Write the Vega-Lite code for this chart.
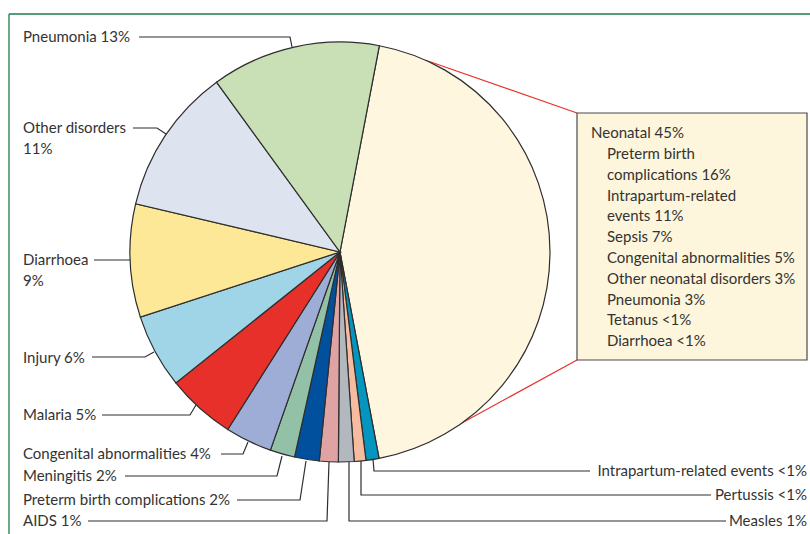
{
  "$schema": "https://vega.github.io/schema/vega-lite/v6.json",
  "width": 810,
  "height": 534,
  "padding": 0,
  "autosize": {"type": "none"},
  "background": "white",
  "config": {"view": {"stroke": null}, "text": {"font": "Lato", "fontSize": 15, "color": "#333333"}},
  "datasets": {
    "slices": [
      {"cause": "Neonatal", "value": 44.0, "ord": 1},
      {"cause": "Intrapartum-related events", "value": 1.0, "ord": 2},
      {"cause": "Pertussis", "value": 0.9, "ord": 3},
      {"cause": "Measles", "value": 1.2, "ord": 4},
      {"cause": "AIDS", "value": 1.45, "ord": 5},
      {"cause": "Preterm birth complications", "value": 1.9, "ord": 6},
      {"cause": "Meningitis", "value": 1.9, "ord": 7},
      {"cause": "Congenital abnormalities", "value": 3.6, "ord": 8},
      {"cause": "Malaria", "value": 5.3, "ord": 9},
      {"cause": "Injury", "value": 5.7, "ord": 10},
      {"cause": "Diarrhoea", "value": 8.7, "ord": 11},
      {"cause": "Other disorders", "value": 11.3, "ord": 12},
      {"cause": "Pneumonia", "value": 13.0, "ord": 13}
    ],
    "leftLabels": [
      {"label": "Pneumonia 13%", "x": -317, "y": -215},
      {"label": "Other disorders", "x": -317, "y": -124},
      {"label": "11%", "x": -317, "y": -103},
      {"label": "Diarrhoea", "x": -317, "y": 8},
      {"label": "9%", "x": -317, "y": 29},
      {"label": "Injury 6%", "x": -317, "y": 106},
      {"label": "Malaria 5%", "x": -317, "y": 163},
      {"label": "Congenital abnormalities 4%", "x": -317, "y": 202},
      {"label": "Meningitis 2%", "x": -317, "y": 224},
      {"label": "Preterm birth complications 2%", "x": -317, "y": 248},
      {"label": "AIDS 1%", "x": -317, "y": 269}
    ],
    "rightLabels": [
      {"label": "Intrapartum-related events <1%", "x": 467, "y": 219},
      {"label": "Pertussis <1%", "x": 467, "y": 243},
      {"label": "Measles 1%", "x": 467, "y": 269}
    ],
    "boxText": [
      {"label": "Neonatal 45%", "x": 251, "y": -119},
      {"label": "Preterm birth", "x": 267, "y": -98},
      {"label": "complications 16%", "x": 267, "y": -77},
      {"label": "Intrapartum-related", "x": 267, "y": -56},
      {"label": "events 11%", "x": 267, "y": -36},
      {"label": "Sepsis 7%", "x": 267, "y": -15},
      {"label": "Congenital abnormalities 5%", "x": 267, "y": 6},
      {"label": "Other neonatal disorders 3%", "x": 267, "y": 27},
      {"label": "Pneumonia 3%", "x": 267, "y": 48},
      {"label": "Tetanus <1%", "x": 267, "y": 68},
      {"label": "Diarrhoea <1%", "x": 267, "y": 89}
    ],
    "leaders": [
      {"id": "pneumonia", "k": 1, "x": -201, "y": -215},
      {"id": "pneumonia", "k": 2, "x": -50, "y": -215},
      {"id": "pneumonia", "k": 3, "x": -48, "y": -205},
      {"id": "other", "k": 1, "x": -207, "y": -124},
      {"id": "other", "k": 2, "x": -183, "y": -124},
      {"id": "other", "k": 3, "x": -174, "y": -118},
      {"id": "diarrhoea", "k": 1, "x": -246, "y": 8},
      {"id": "diarrhoea", "k": 2, "x": -210, "y": 8},
      {"id": "injury", "k": 1, "x": -248, "y": 105},
      {"id": "injury", "k": 2, "x": -195, "y": 105},
      {"id": "injury", "k": 3, "x": -186, "y": 100},
      {"id": "malaria", "k": 1, "x": -238, "y": 163},
      {"id": "malaria", "k": 2, "x": -150, "y": 163},
      {"id": "malaria", "k": 3, "x": -144, "y": 153},
      {"id": "congenital", "k": 1, "x": -119, "y": 202},
      {"id": "congenital", "k": 2, "x": -97, "y": 202},
      {"id": "congenital", "k": 3, "x": -92, "y": 190},
      {"id": "meningitis", "k": 1, "x": -215, "y": 224},
      {"id": "meningitis", "k": 2, "x": -63, "y": 224},
      {"id": "meningitis", "k": 3, "x": -58, "y": 204},
      {"id": "preterm", "k": 1, "x": -103, "y": 248},
      {"id": "preterm", "k": 2, "x": -40, "y": 248},
      {"id": "preterm", "k": 3, "x": -34, "y": 209},
      {"id": "aids", "k": 1, "x": -252, "y": 269},
      {"id": "aids", "k": 2, "x": -13, "y": 269},
      {"id": "aids", "k": 3, "x": -11, "y": 210},
      {"id": "measles", "k": 1, "x": 9, "y": 210},
      {"id": "measles", "k": 2, "x": 9, "y": 269},
      {"id": "measles", "k": 3, "x": 386, "y": 269},
      {"id": "pertussis", "k": 1, "x": 21, "y": 209},
      {"id": "pertussis", "k": 2, "x": 21, "y": 243},
      {"id": "pertussis", "k": 3, "x": 371, "y": 243},
      {"id": "intrapartum", "k": 1, "x": 33, "y": 207},
      {"id": "intrapartum", "k": 2, "x": 34, "y": 219},
      {"id": "intrapartum", "k": 3, "x": 250, "y": 219}
    ],
    "callout": [
      {"x": 85, "y": -192, "x2": 237, "y2": -139},
      {"x": 120, "y": 172, "x2": 237, "y2": 108}
    ],
    "box": [{"x": 237, "y": -139, "x2": 467, "y2": 108}],
    "frame": [
      {"x": -331, "y": -238, "x2": 480, "y2": -238},
      {"x": -331, "y": -238, "x2": -331, "y2": 290}
    ]
  },
  "layer": [
    {
      "data": {"name": "frame"},
      "mark": {"type": "rule", "color": "#1f7a4d", "strokeWidth": 1.3},
      "encoding": {
        "x": {"field": "x", "type": "quantitative", "scale": {"domain": [-340, 470], "nice": false, "zero": false}, "axis": null},
        "y": {"field": "y", "type": "quantitative", "scale": {"domain": [-252, 282], "nice": false, "zero": false, "reverse": true}, "axis": null},
        "x2": {"field": "x2"},
        "y2": {"field": "y2"}
      }
    },
    {
      "data": {"name": "callout"},
      "mark": {"type": "rule", "color": "#e8312a", "strokeWidth": 1.2},
      "encoding": {
        "x": {"field": "x", "type": "quantitative"},
        "y": {"field": "y", "type": "quantitative"},
        "x2": {"field": "x2"},
        "y2": {"field": "y2"}
      }
    },
    {
      "data": {"name": "slices"},
      "mark": {"type": "arc", "outerRadius": 210, "stroke": "#2e2e2e", "strokeWidth": 1.2},
      "encoding": {
        "x": {"datum": 0, "type": "quantitative"},
        "y": {"datum": 0, "type": "quantitative"},
        "theta": {"field": "value", "type": "quantitative", "scale": {"range": [0.1885, 6.4717]}, "stack": true},
        "order": {"field": "ord", "type": "quantitative"},
        "color": {
          "field": "cause", "type": "nominal", "legend": null,
          "scale": {
            "domain": ["Neonatal", "Intrapartum-related events", "Pertussis", "Measles", "AIDS", "Preterm birth complications", "Meningitis", "Congenital abnormalities", "Malaria", "Injury", "Diarrhoea", "Other disorders", "Pneumonia"],
            "range": ["#fef6df", "#0496be", "#f7bca0", "#b2b8be", "#e0a3a3", "#00509e", "#93c1a7", "#9eadd5", "#e8302a", "#a0d5e8", "#fde897", "#dde3ef", "#c9e0b6"]
          }
        }
      }
    },
    {
      "data": {"name": "box"},
      "mark": {"type": "rect", "fill": "#fdf6dc", "stroke": "#4a4a4a", "strokeWidth": 1.2},
      "encoding": {
        "x": {"field": "x", "type": "quantitative"},
        "y": {"field": "y", "type": "quantitative"},
        "x2": {"field": "x2"},
        "y2": {"field": "y2"}
      }
    },
    {
      "data": {"name": "leaders"},
      "mark": {"type": "line", "color": "#2e2e2e", "strokeWidth": 1.2},
      "encoding": {
        "x": {"field": "x", "type": "quantitative"},
        "y": {"field": "y", "type": "quantitative"},
        "detail": {"field": "id"},
        "order": {"field": "k", "type": "quantitative"}
      }
    },
    {
      "data": {"name": "leftLabels"},
      "mark": {"type": "text", "align": "left", "baseline": "middle"},
      "encoding": {
        "x": {"field": "x", "type": "quantitative"},
        "y": {"field": "y", "type": "quantitative"},
        "text": {"field": "label"}
      }
    },
    {
      "data": {"name": "rightLabels"},
      "mark": {"type": "text", "align": "right", "baseline": "middle"},
      "encoding": {
        "x": {"field": "x", "type": "quantitative"},
        "y": {"field": "y", "type": "quantitative"},
        "text": {"field": "label"}
      }
    },
    {
      "data": {"name": "boxText"},
      "mark": {"type": "text", "align": "left", "baseline": "middle"},
      "encoding": {
        "x": {"field": "x", "type": "quantitative"},
        "y": {"field": "y", "type": "quantitative"},
        "text": {"field": "label"}
      }
    }
  ]
}
